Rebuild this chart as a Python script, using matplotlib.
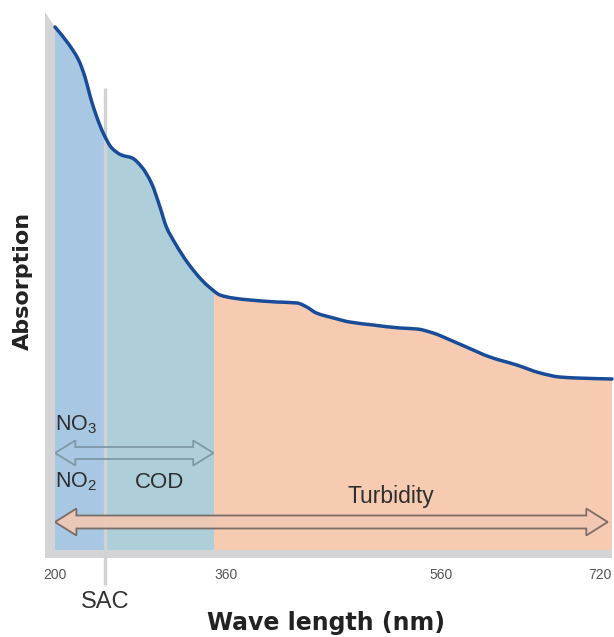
import numpy as np
import matplotlib
matplotlib.use("Agg")
import matplotlib.pyplot as plt
from matplotlib.patches import Polygon, Rectangle, PathPatch
from matplotlib.path import Path

plt.rcParams['font.family'] = ['Liberation Sans', 'DejaVu Sans']
plt.rcParams['mathtext.default'] = 'regular'

# absorption spectrum (arbitrary units)
wavelength = [200, 212, 222, 228, 233, 239, 245, 253, 262, 272, 281, 290, 298, 304,
              312, 324, 337, 345, 354, 366, 382, 407, 426, 435, 444, 460, 475, 497,
              522, 538, 553, 569, 584, 606, 631, 653, 671, 687, 720]
absorption = [5.23, 5.07, 4.90, 4.73, 4.53, 4.33, 4.17, 4.02, 3.95, 3.92, 3.83, 3.67, 3.43, 3.23,
              3.07, 2.87, 2.70, 2.62, 2.55, 2.52, 2.50, 2.48, 2.47, 2.43, 2.37, 2.32, 2.28, 2.25,
              2.22, 2.21, 2.17, 2.10, 2.03, 1.93, 1.85, 1.77, 1.73, 1.72, 1.71]

# bands: edges and colours
band_edges = [200, 247, 348, 720]
band_colors = ['#a8c7e3', '#aecfd9', '#f7cbb1']
sac_wavelength = 247
tick_values = [200, 360, 560, 720]
tick_labels = ['200', '360', '560', '720']


def smooth_path(x, y):
    # monotone cubic (pchip-style tangents) drawn as bezier segments
    x = np.asarray(x, float)
    y = np.asarray(y, float)
    h = np.diff(x)
    d = np.diff(y) / h
    m = np.zeros_like(y)
    m[0], m[-1] = d[0], d[-1]
    for k in range(1, len(x) - 1):
        if d[k - 1] * d[k] > 0:
            w1 = 2 * h[k] + h[k - 1]
            w2 = h[k] + 2 * h[k - 1]
            m[k] = (w1 + w2) / (w1 / d[k - 1] + w2 / d[k])
    verts = [(x[0], y[0])]
    codes = [Path.MOVETO]
    for k in range(len(x) - 1):
        verts += [(x[k] + h[k] / 3, y[k] + m[k] * h[k] / 3),
                  (x[k + 1] - h[k] / 3, y[k + 1] - m[k + 1] * h[k] / 3),
                  (x[k + 1], y[k + 1])]
        codes += [Path.CURVE4] * 3
    return verts, codes


W, H = 614, 637
fig = plt.figure(figsize=(W / 100, H / 100), dpi=100)
ax = fig.add_axes([55 / W, (H - 550) / H, 557 / W, 538 / H])
ax.set_xlim(200, 720)
ax.set_ylim(0, 5.38)

verts, codes = smooth_path(wavelength, absorption)

# coloured bands under the curve, each clipped to its wavelength range
fill_verts = [(wavelength[0], 0)] + verts + [(wavelength[-1], 0), (wavelength[0], 0)]
fill_codes = [Path.MOVETO] + [Path.LINETO] + codes[1:] + [Path.LINETO, Path.CLOSEPOLY]
for x0, x1, c in zip(band_edges[:-1], band_edges[1:], band_colors):
    patch = PathPatch(Path(fill_verts, fill_codes), facecolor=c, lw=0, zorder=1)
    ax.add_patch(patch)
    patch.set_clip_path(Rectangle((x0, 0), x1 - x0, 10, transform=ax.transData))

# SAC marker line, runs down below the axis
ax.plot([sac_wavelength, sac_wavelength], [-0.35, 4.62], color='#d2d2d2', lw=2.4,
        zorder=2, clip_on=False, solid_capstyle='butt')

ax.add_patch(PathPatch(Path(verts, codes), facecolor='none', edgecolor='#194c98',
                       lw=2.5, zorder=4, capstyle='round', clip_on=False))


def double_arrow(x0, x1, y, head_len, head_h, shaft_h, **kw):
    pts = [(x0, y), (x0 + head_len, y + head_h), (x0 + head_len, y + shaft_h),
           (x1 - head_len, y + shaft_h), (x1 - head_len, y + head_h), (x1, y),
           (x1 - head_len, y - head_h), (x1 - head_len, y - shaft_h),
           (x0 + head_len, y - shaft_h), (x0 + head_len, y - head_h)]
    ax.add_patch(Polygon(pts, closed=True, zorder=5, **kw))


double_arrow(200, 348, 0.97, 19, 0.125, 0.06, facecolor='none',
             edgecolor='#7d99a5', lw=1.3)
double_arrow(200, 716, 0.28, 20, 0.135, 0.065, facecolor='#f3c8b4',
             alpha=0.9, edgecolor='#6f635d', lw=1.3)

txt = dict(color='#2e2e2e', zorder=6)
ax.text(200, 1.25, 'NO$_3$', fontsize=15.5, ha='left', va='center', **txt)
ax.text(200, 0.68, 'NO$_2$', fontsize=15.5, ha='left', va='center', **txt)
ax.text(298, 0.68, 'COD', fontsize=16, ha='center', va='center', **txt)
ax.text(514, 0.53, 'Turbidity', fontsize=16.5, ha='center', va='center', **txt)
ax.text(sac_wavelength, -0.52, 'SAC', fontsize=17, ha='center', va='center',
        color='#333333', clip_on=False)

# grey axis bars (left one has a slanted top)
bar = '#d4d4d6'
ax.add_patch(Polygon([(-10 / 557, 0), (0, 0), (0, 523 / 538), (-10 / 557, 538 / 538)],
                     closed=True, transform=ax.transAxes, color=bar, lw=0,
                     clip_on=False, zorder=0))
ax.add_patch(Rectangle((-10 / 557, -8 / 538), 567 / 557, 8 / 538,
                       transform=ax.transAxes, color=bar, lw=0, clip_on=False, zorder=0))

for s in ax.spines.values():
    s.set_visible(False)
ax.set_yticks([])
ax.set_xticks(tick_values)
ax.set_xticklabels(tick_labels, fontsize=10, color='#555555')
ax.tick_params(axis='x', length=0, pad=13)
ax.get_xticklabels()[-1].set_ha('right')

ax.set_xlabel('Wave length (nm)', fontsize=17, fontweight='bold',
              family='DejaVu Sans', color='#222222', labelpad=21)
ax.xaxis.label.set_x(0.487)
ax.set_ylabel('Absorption', fontsize=16, fontweight='bold',
              family='DejaVu Sans', color='#222222', labelpad=16)

fig.savefig('out.png', dpi=100)
